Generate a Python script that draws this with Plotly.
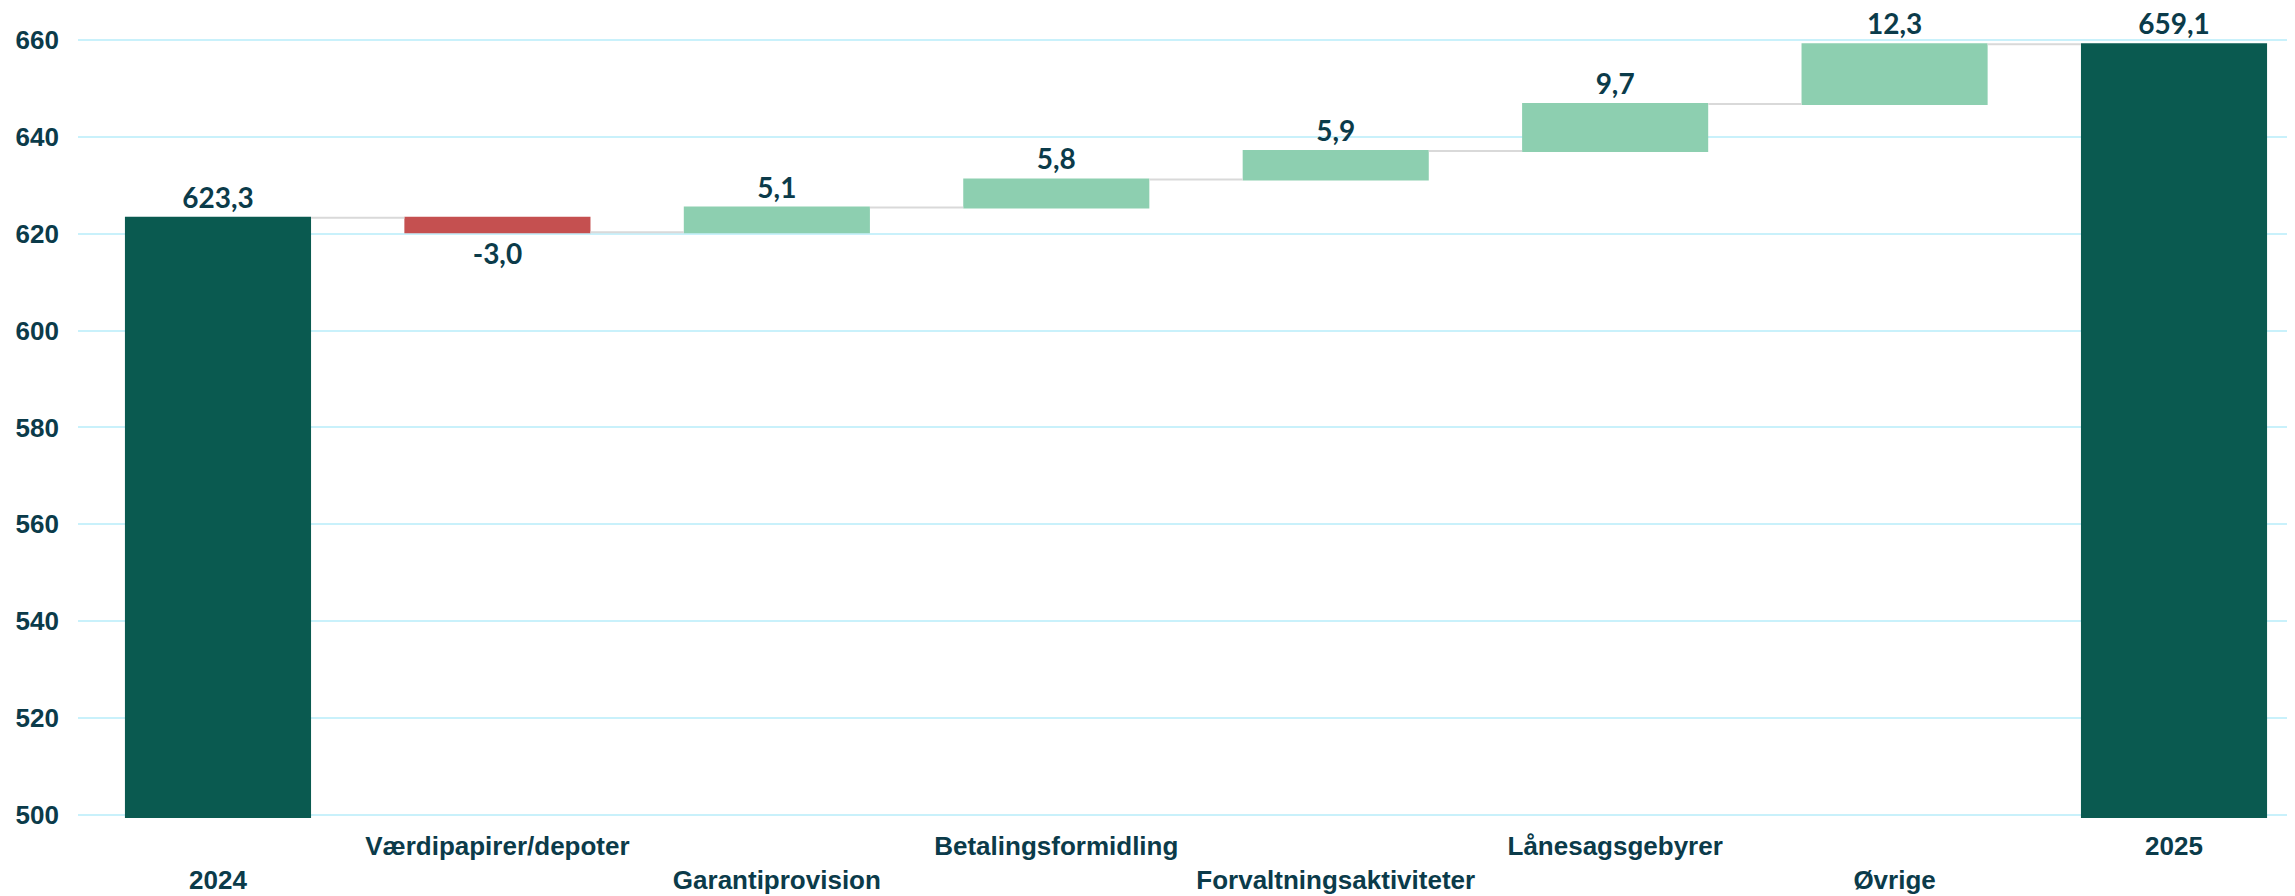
import plotly.graph_objects as go

categories = ["2024", "Værdipapirer/depoter", "Garantiprovision", "Betalingsformidling",
              "Forvaltningsaktiviteter", "Lånesagsgebyrer", "Øvrige", "2025"]
values = [623.3, -3.0, 5.1, 5.8, 5.9, 9.7, 12.3, 659.1]
measures = ["absolute", "relative", "relative", "relative", "relative", "relative", "relative", "total"]
y_ticks = [500, 520, 540, 560, 580, 600, 620, 640, 660]

text_color = "#0B3B4A"
labels = [f"{v:.1f}".replace(".", ",") for v in values]
ticktext = [c if i % 2 == 1 else "<br>" + c for i, c in enumerate(categories)]

fig = go.Figure(go.Waterfall(
    x=list(range(len(categories))),
    y=[v if m != "total" else 0 for v, m in zip(values, measures)],
    measure=measures,
    text=labels,
    textposition="outside",
    textfont=dict(family="Lato", size=28, color=text_color, weight="bold"),
    increasing=dict(marker=dict(color="#8DCFB0")),
    decreasing=dict(marker=dict(color="#C55050")),
    totals=dict(marker=dict(color="#0A5A50")),
    connector=dict(line=dict(color="#D9D9D9", width=2)),
    cliponaxis=False,
    hoverinfo="skip",
))

fig.update_layout(
    width=2295, height=896,
    margin=dict(l=70, r=8, t=10, b=86, autoexpand=False),
    paper_bgcolor="white", plot_bgcolor="white",
    waterfallgap=0.334,
    showlegend=False,
    font=dict(family="Liberation Sans", color=text_color),
    xaxis=dict(
        tickmode="array", tickvals=list(range(len(categories))), ticktext=ticktext,
        range=[-0.501, 7.433], showgrid=False, zeroline=False, showline=False,
        tickfont=dict(family="Liberation Sans", size=26, color=text_color, weight="bold"),
        ticks="", automargin=False, ticklabelstandoff=10,
    ),
    yaxis=dict(
        range=[499.38, 664.54], tickvals=y_ticks, showgrid=True, gridcolor="#C9F1FB",
        gridwidth=2, zeroline=False, showline=False, ticks="", automargin=False,
        ticklabelstandoff=18,
        tickfont=dict(family="Liberation Sans", size=26, color=text_color, weight="bold"),
    ),
)

fig.write_html("out.html")
